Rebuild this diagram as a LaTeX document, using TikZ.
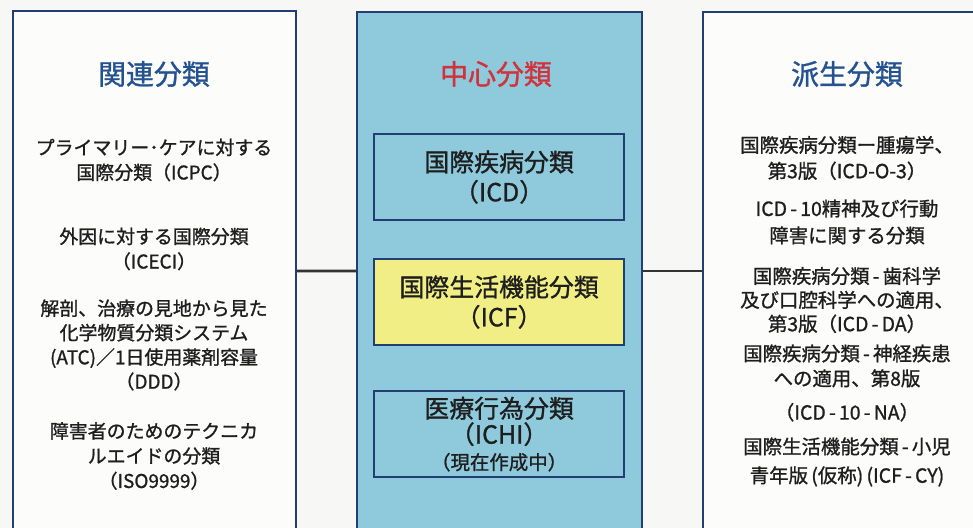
\documentclass[tikz,border=0pt]{standalone}
\usepackage{fontspec}
\setmainfont{Noto Sans CJK JP}[FakeBold=1.1]
\definecolor{paper}{RGB}{247,247,245}
\definecolor{navy}{RGB}{35,62,115}
\definecolor{skyfill}{RGB}{142,202,220}
\definecolor{yel}{RGB}{240,238,132}
\definecolor{ttlblue}{RGB}{36,82,145}
\definecolor{ttlred}{RGB}{210,50,60}
\definecolor{txt}{RGB}{30,30,30}
\definecolor{conncol}{RGB}{50,52,52}
\tikzset{
  panel/.style={draw=navy, line width=2bp, anchor=north west, inner sep=0pt},
  inbox/.style={draw=navy, line width=2.2bp, anchor=north west, inner sep=0pt,
    minimum width=250bp, minimum height=86bp, align=center, text=txt,
    font=\fontsize{25}{30}\selectfont},
  ttl/.style={font=\fontsize{28}{32}\selectfont, text=ttlblue, inner sep=0pt},
  body/.style={font=\fontsize{19}{25}\selectfont, text=txt, align=center, inner sep=0pt},
  rbody/.style={body, font=\fontsize{19.5}{25}\selectfont}
}
\tikzset{conn/.style={draw=conncol, line width=2.8bp}}
\begin{document}
\begin{tikzpicture}[x=1bp,y=-1bp]
\fill[paper] (0,0) rectangle (973,528);
\useasboundingbox (0,0) rectangle (973,528);
% panels
\node[panel, fill=white!60!paper, minimum width=283bp, minimum height=560bp] (rel) at (12,10) {};
\node[panel, fill=skyfill, minimum width=285bp, minimum height=560bp] (cen) at (356,11) {};
\node[panel, fill=white!60!paper, minimum width=300bp, minimum height=560bp] (der) at (702,11) {};
% titles
\node[ttl] (relt) at (154,74) {関連分類};
\node[ttl, text=ttlred] (cent) at (496,74) {中心分類};
\node[ttl] (dert) at (847,74) {派生分類};
% centre boxes
\node[inbox] (icd) at (373,133) {国際疾病分類\\（ICD）};
\node[inbox, fill=yel] (icf) at (373,258) {国際生活機能分類\\（ICF）};
\node[inbox, font=\fontsize{25}{26}\selectfont] (ichi) at (373,390) {医療行為分類\\（ICHI）\\{\fontsize{19.5}{23}\selectfont （現在作成中）}};
% left texts
\node[body] (l1) at (154,160) {プライマリー･ケアに対する\\国際分類（ICPC）};
\node[body] (l2) at (154,249) {外因に対する国際分類\\（ICECI）};
\node[body, font=\fontsize{19}{24.5}\selectfont] (l3) at (154,345) {解剖、治療の見地から見た\\化学物質分類システム\\(ATC)／1日使用薬剤容量\\（DDD）};
\node[body] (l4) at (154,456) {障害者のためのテクニカ\\ルエイドの分類\\（ISO9999）};
% right texts
\node[rbody, font=\fontsize{19.5}{26}\selectfont] (r1) at (847,158) {国際疾病分類ー腫瘍学、\\第3版（ICD-O-3）};
\node[rbody, font=\fontsize{19.5}{27}\selectfont] (r2) at (847,222) {ICD\,-\,10精神及び行動\\障害に関する分類};
\node[rbody, font=\fontsize{19.5}{24}\selectfont] (r3) at (847,300) {国際疾病分類\,-\,歯科学\\及び口腔科学への適用、\\第3版（ICD\,-\,DA）};
\node[rbody] (r4) at (847,383) {国際疾病分類\,-\,神経疾患\\への適用、第8版\\[9bp]（ICD\,-\,10\,-\,NA）};
\node[rbody, font=\fontsize{19.5}{29}\selectfont] (r5) at (847,462) {国際生活機能分類\,-\,小児\\青年版\,(仮称)\,(ICF\,-\,CY)};
% connectors
\draw[conn] ([yshift=-261bp]rel.north east) -- ([yshift=-260bp]cen.north west);
\draw[conn] ([yshift=-260bp]cen.north east) -- ([yshift=-260bp]der.north west);
\end{tikzpicture}
\end{document}
